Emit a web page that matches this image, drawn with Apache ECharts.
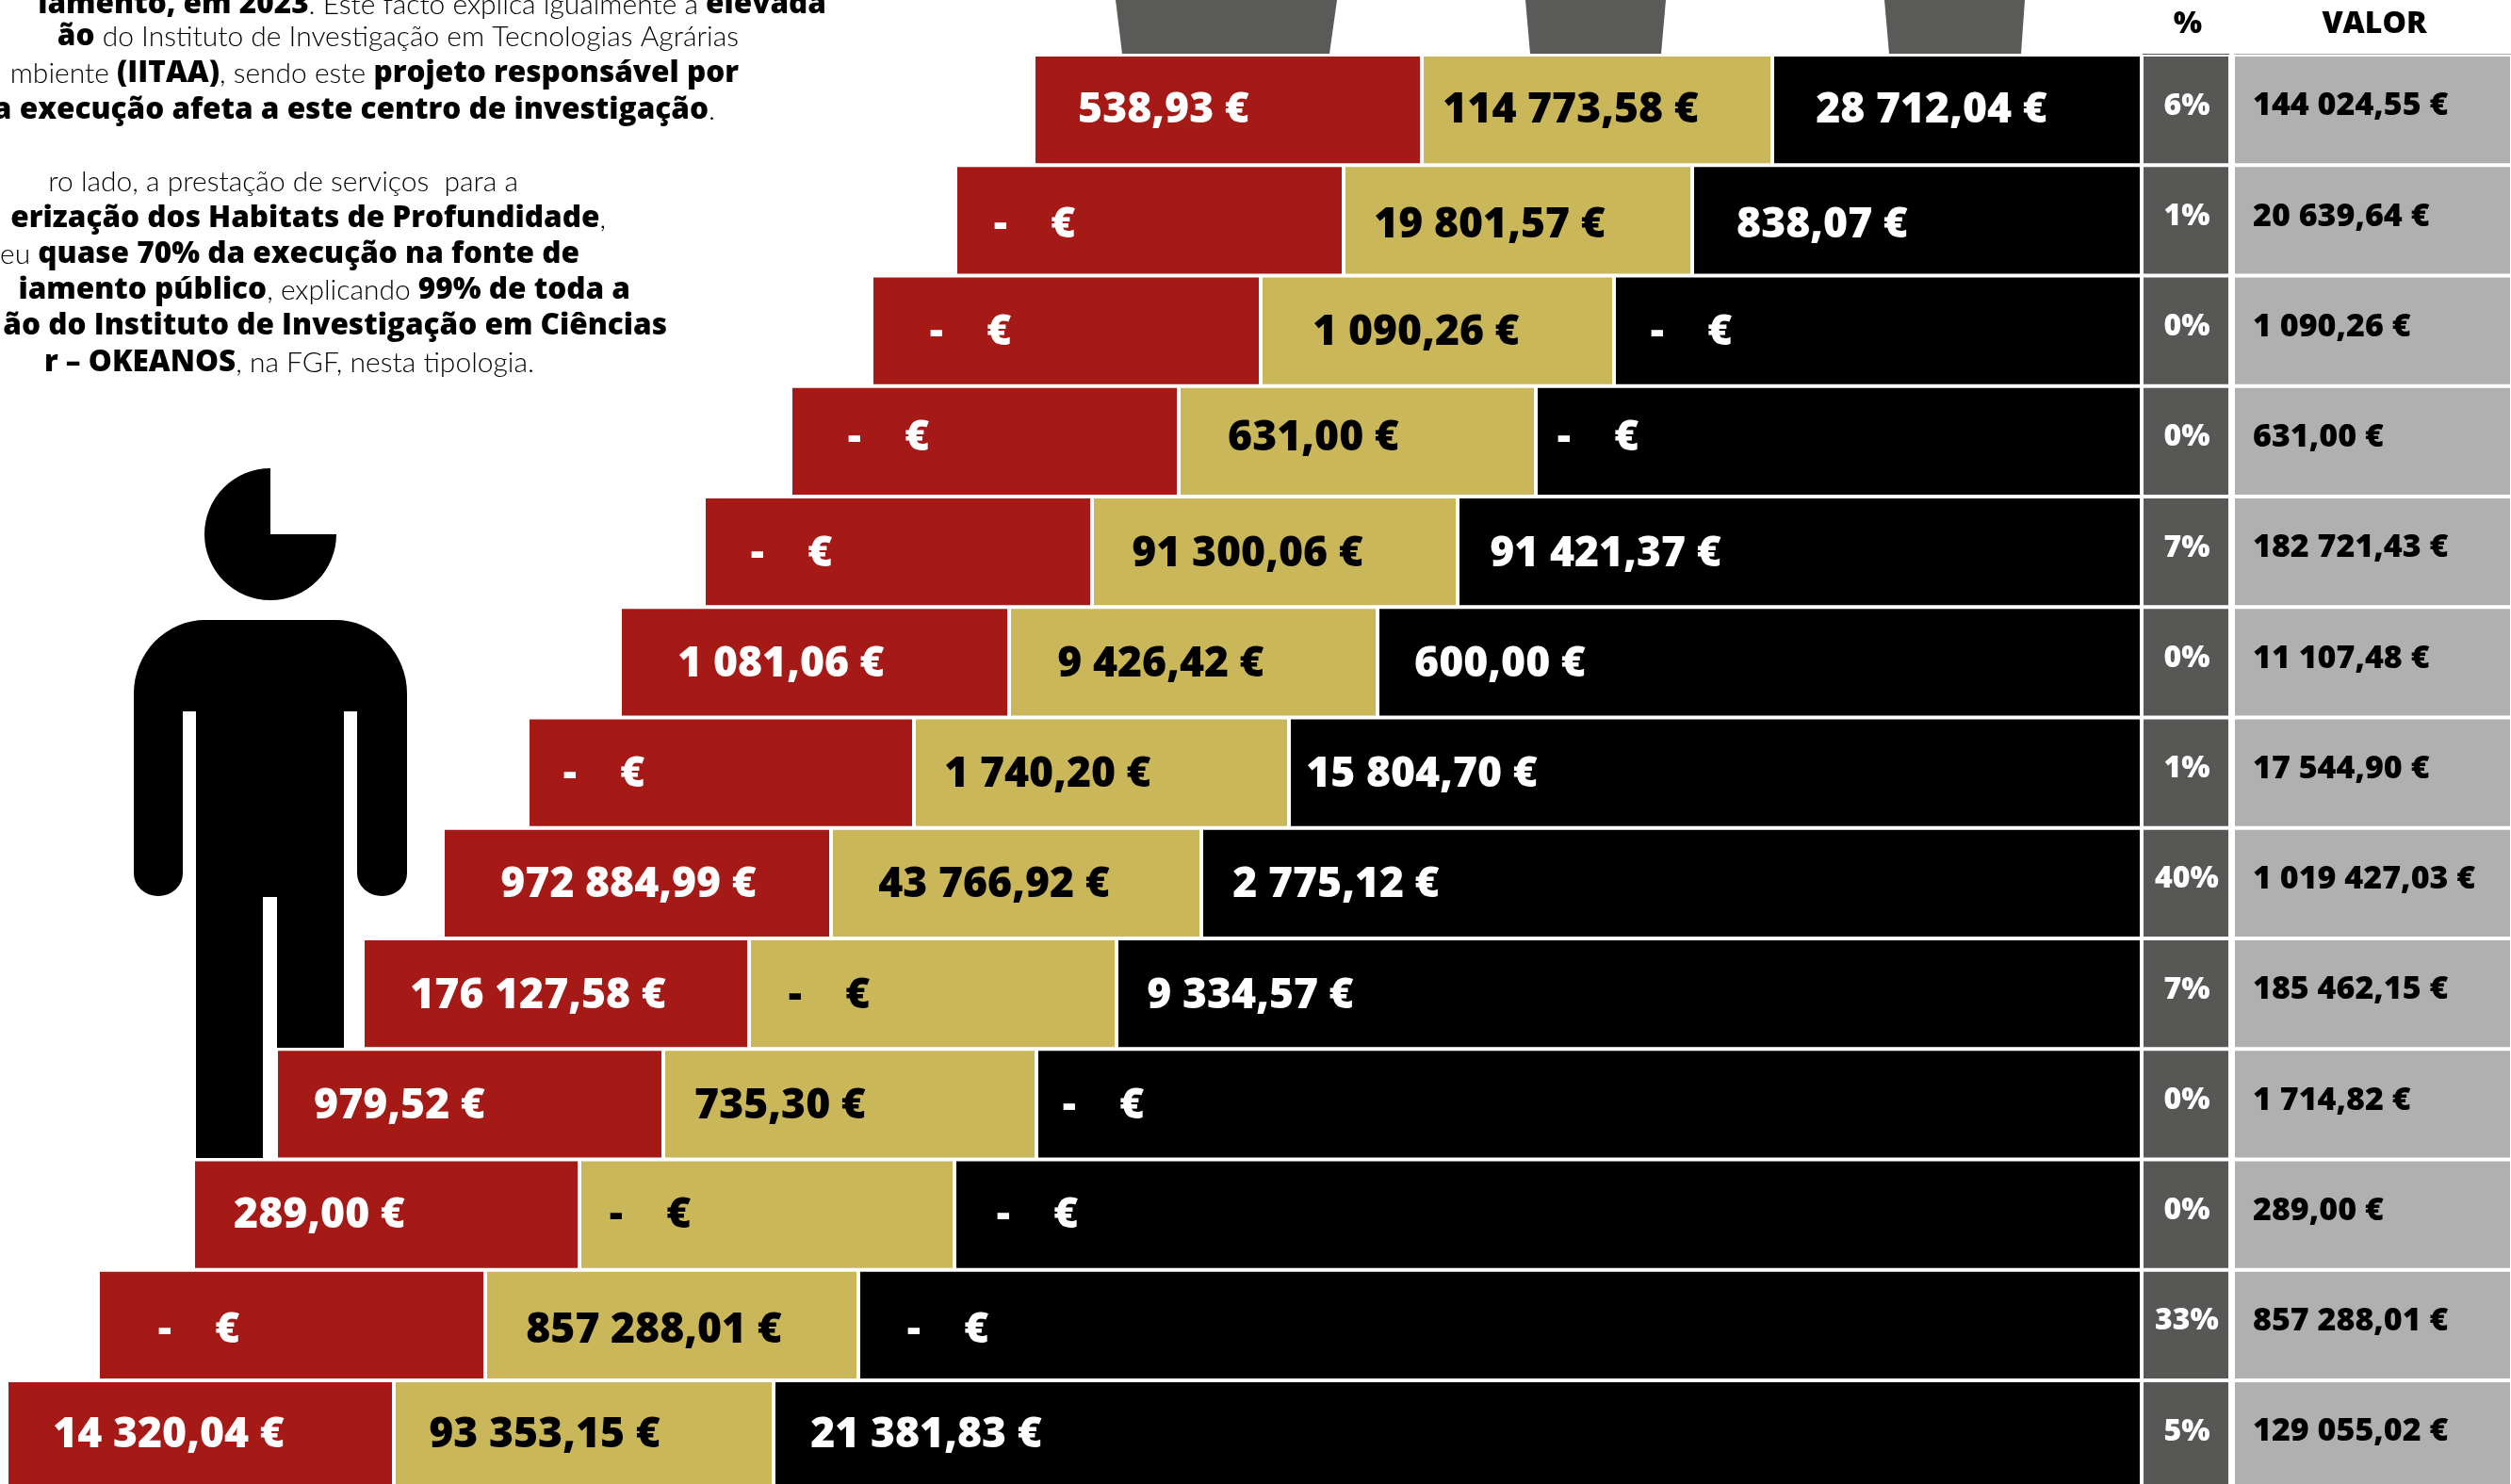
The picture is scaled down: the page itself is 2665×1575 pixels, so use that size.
<!DOCTYPE html>
<html><head><meta charset="utf-8">
<style>html,body{margin:0;padding:0;background:#fff;overflow:hidden}#c{width:2665px;height:1575px}</style>
<script src="https://cdn.jsdelivr.net/npm/echarts@6/dist/echarts.min.js"></script>
</head><body><div id="c"></div>
<script>
// Data as printed in the reference (null prints as "-    €")
const rows = ['1','2','3','4','5','6','7','8','9','10','11','12','13'];
const redValues   = ['538,93',null,null,null,null,'1 081,06',null,'972 884,99','176 127,58','979,52','289,00',null,'14 320,04'];
const goldValues  = ['114 773,58','19 801,57','1 090,26','631,00','91 300,06','9 426,42','1 740,20','43 766,92',null,'735,30',null,'857 288,01','93 353,15'];
const blackValues = ['28 712,04','838,07',null,null,'91 421,37','600,00','15 804,70','2 775,12','9 334,57',null,null,null,'21 381,83'];
const pctValues   = ['6%','1%','0%','0%','7%','0%','1%','40%','7%','0%','0%','33%','5%'];
const totalValues = ['144 024,55','20 639,64','1 090,26','631,00','182 721,43','11 107,48','17 544,90','1 019 427,03','185 462,15','1 714,82','289,00','857 288,01','129 055,02'];
const headers = ['%','VALOR'];

// Blocks are a staircase, not to scale: edges, on an axis in picture units
const redStart = [1097,1014,925,839,747,658,560,470,385,293,205,104,7];
const redEnd   = [1509,1426,1338,1251,1159,1071,970,882,795,704,615,515,418];
const goldEnd  = [1881,1796,1713,1630,1547,1462,1368,1275,1185,1100,1013,911,821];
const blackEnd = 2273, pctEnd = 2367, totalStart = 2370, axisEnd = 2665;
// Label centres
const redCentre   = [1235,1098,1030,943,840,829,641,667,571,424,339,211,179];
const goldCentre  = [1667,1581,1503,1394,1324,1232,1112,1055,880,828,690,694,578];
const blackCentre = [2050,1934,1795,1696,1704,1592,1509,1418,1327,1171,1101,1006,983];
const rowNudge = [-2,2,-1,-6,0,-1,-1,-1,0,-1,-2,3,-3];

const RED='#A51916', GOLD='#C9B75A', BLACK='#000000', DARK='#575756', LIGHT='#B0B0B0', TRAP='#5A5A59';
const FF = 'Lato, "Noto Sans", sans-serif';
const FB = '"Open Sans", Lato, sans-serif';

function euro(v){ return v===null ? '-    €' : v+' €'; }
function block(name,color,textColor,start,end,vals,centres){
  return {
    name, type:'bar', stack:'s', barWidth:'100%', barCategoryGap:0,
    itemStyle:{color,borderColor:'#fff',borderWidth:2},
    data: rows.map((_,i)=>{
      const s = start(i), e = end(i);
      return {value:e-s, label:{show:true, position:'inside', color:textColor,
        fontFamily:FB, fontWeight:800, fontSize:44.5,
        formatter:euro(vals[i]), offset:[centres[i]-(s+e)/2, rowNudge[i]+3]}};
    })
  };
}
function spacer(f){ return {type:'bar',stack:'s',barWidth:'100%',silent:true,itemStyle:{color:'transparent'},data:rows.map((_,i)=>f(i))}; }

const series = [
  spacer(i=>redStart[i]),
  block('Red',RED,'#fff',i=>redStart[i],i=>redEnd[i],redValues,redCentre),
  block('Gold',GOLD,'#000',i=>redEnd[i],i=>goldEnd[i],goldValues,goldCentre),
  block('Black',BLACK,'#fff',i=>goldEnd[i],i=>blackEnd,blackValues,blackCentre),
  {name:'%',type:'bar',stack:'s',barWidth:'100%',itemStyle:{color:DARK,borderColor:'#fff',borderWidth:2},
   data:rows.map((_,i)=>({value:pctEnd-blackEnd,label:{show:true,position:'inside',color:'#fff',fontFamily:FB,fontWeight:800,fontSize:32,formatter:pctValues[i],offset:[1,-4]}}))},
  spacer(()=>totalStart-pctEnd),
  {name:'Valor',type:'bar',stack:'s',barWidth:'100%',itemStyle:{color:LIGHT,borderColor:'#fff',borderWidth:2},
   data:rows.map((_,i)=>({value:axisEnd+2-totalStart,label:{show:true,position:'insideLeft',distance:0,color:'#000',fontFamily:FB,fontWeight:800,fontSize:34,formatter:euro(totalValues[i]),offset:[21,-4]}}))}
];

// Cropped explanatory text: [right end x, centre y, rich string]
const N=s=>'{n|'+s+'}', B=s=>'{b|'+s+'}';
const textLines = [
  [877,5,  B('iamento, em 2023')+N('. Este facto explica igualmente a ')+B('elevada')],
  [784,39, B('ão')+N(' do Instituto de Investigação em Tecnologias Agrárias')],
  [784,78, N('mbiente ')+B('(IITAA)')+N(', sendo este ')+B('projeto responsável por')],
  [759,117,B('a execução afeta a este centro de investigação')+N('.')],
  [550,193,N('ro lado, a prestação de serviços  para a')],
  [643,232,B('erização dos Habitats de Profundidade')+N(',')],
  [615,270,N('eu ')+B('quase 70% da execução na fonte de')],
  [669,308,B('iamento público')+N(', explicando ')+B('99% de toda a')],
  [708,346,B('ão do Instituto de Investigação em Ciências')],
  [567,385,B('r – OKEANOS')+N(', na FGF, nesta tipologia.')]
];
const rich = {
  n:{fontFamily:FF,fontWeight:300,fontSize:30,fill:'#000',color:'#000'},
  b:{fontFamily:FB,fontWeight:800,fontSize:31.5,fill:'#000',color:'#000'}
};

// The figure beside the staircase
echarts.graphic.registerShape('personHead', echarts.graphic.extendPath('M287 497 A70 70 0 1 0 357 567 L287 567 Z', {}));
echarts.graphic.registerShape('personBody', echarts.graphic.extendPath('M218 658 L356 658 A76 78 0 0 1 432 736 L432 927 A26.5 24 0 0 1 379 927 L379 755 L365 755 L365 1112 L294 1112 L294 952 L279 952 L279 1229 L208 1229 L208 755 L194 755 L194 927 A26 24 0 0 1 142 927 L142 736 A76 78 0 0 1 218 658 Z', {}));

const graphic = [
  ...textLines.map(l=>({type:'text',silent:true,style:{x:l[0],y:l[1],text:l[2],rich,align:'right',verticalAlign:'middle'}})),
  {type:'polygon',silent:true,shape:{points:[[1184,0],[1419,0],[1411,57],[1191,57]]},style:{fill:TRAP}},
  {type:'polygon',silent:true,shape:{points:[[1619,0],[1768,0],[1763,57],[1624,57]]},style:{fill:TRAP}},
  {type:'polygon',silent:true,shape:{points:[[2000,0],[2149,0],[2145,57],[2005,57]]},style:{fill:TRAP}},
  {type:'rect',silent:true,shape:{x:2274,y:57,width:92,height:3},style:{fill:DARK}},
  {type:'rect',silent:true,shape:{x:2371,y:57,width:294,height:3},style:{fill:LIGHT}},
  {type:'text',silent:true,style:{x:2322,y:26,text:headers[0],align:'center',verticalAlign:'middle',fontFamily:FB,fontWeight:800,fontSize:32,fill:'#000'}},
  {type:'text',silent:true,style:{x:2520,y:26,text:headers[1],align:'center',verticalAlign:'middle',fontFamily:FB,fontWeight:800,fontSize:32,fill:'#000'}},
  {type:'personHead',silent:true,style:{fill:'#000'}},
  {type:'personBody',silent:true,style:{fill:'#000'}}
];

const chart = echarts.init(document.getElementById('c'),null,{renderer:'canvas'});
chart.setOption({
  animation:false, backgroundColor:'#fff',
  grid:{left:0,top:58,width:axisEnd,height:117.25*rows.length,containLabel:false,outerBoundsMode:'none'},
  xAxis:{type:'value',min:0,max:axisEnd,show:false},
  yAxis:{type:'category',inverse:true,data:rows,show:false},
  graphic, series
});
</script></body></html>
